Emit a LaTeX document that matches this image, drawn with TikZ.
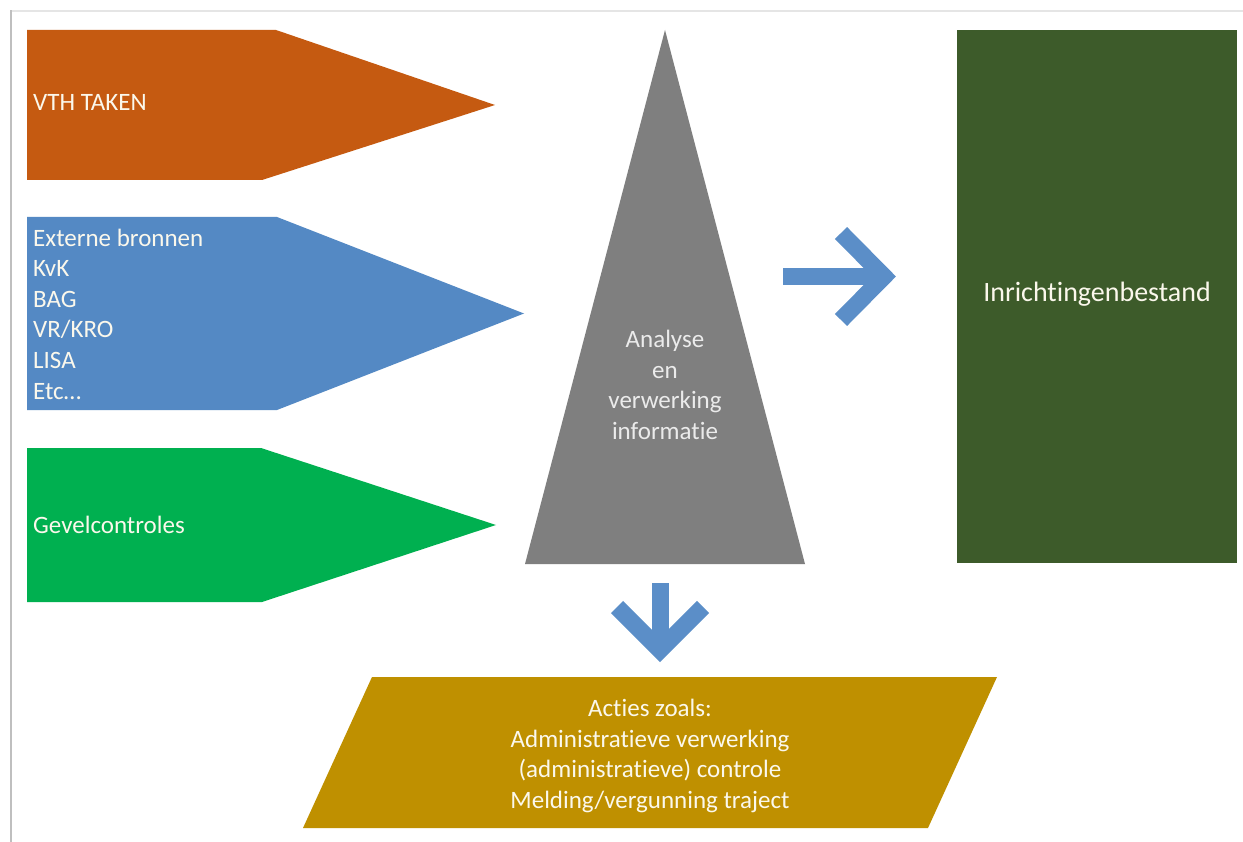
\documentclass[tikz,border=0pt]{standalone}
\usepackage{fontspec}
\setmainfont{Carlito}[Ligatures=NoCommon]
\definecolor{cOrange}{HTML}{C55A11}
\definecolor{cBlue}{HTML}{5489C4}
\definecolor{cGreen}{HTML}{00B050}
\definecolor{cGray}{HTML}{7F7F7F}
\definecolor{cDark}{HTML}{3D5B2A}
\definecolor{cGold}{HTML}{BF9000}
\definecolor{cArrow}{HTML}{5B8EC8}
\definecolor{cText}{HTML}{FBF8EC}
\begin{document}
\begin{tikzpicture}[x=1pt,y=-1pt,
  lbl/.style={text=cText,inner sep=0pt,font={\fontsize{25}{30.6}\selectfont}},
  blockarrow/.style={draw=cArrow,line width=17pt,line join=miter,miter limit=10},
]
\useasboundingbox[fill=white] (0,0) rectangle (1243,842);
% frame
\draw[black!10,line width=1.5pt] (11,11) -- (1243,11);
\draw[black!25,line width=2.5pt] (11,842) -- (11,10.25);

% shapes
\fill[cOrange] (27,30) -- (276,30) -- (495,105) -- (262,180) -- (27,180) -- cycle;
\fill[cBlue] (27,217) -- (277,217) -- (524,313.5) -- (277,410) -- (27,410) -- cycle;
\fill[cGreen] (27,448) -- (261,448) -- (496,525) -- (262,602) -- (27,602) -- cycle;
\fill[cGray] (665,30) -- (805,564) -- (525,564) -- cycle;
\fill[cDark] (957,30) rectangle (1237,563);
\fill[cGold] (372,677) -- (997,677) -- (928,828) -- (303,828) -- cycle;

% texts
\node[lbl,anchor=west] (vth) at (33,102) {VTH TAKEN};
\node[lbl,anchor=west,align=left] (ext) at (33,314) {Externe bronnen\\KvK\\BAG\\VR/KRO\\LISA\\Etc…};
\node[lbl,anchor=west] (gevel) at (33,525) {Gevelcontroles};
\node[lbl,align=center,text=black!8] (ana) at (665,385) {Analyse\\en\\verwerking\\informatie};
\node[lbl,font={\fontsize{28}{34}\selectfont}] (inr) at (1097,294) {Inrichtingenbestand};
\node[lbl,align=center] (act) at (650,756) {Acties zoals:\\Administratieve verwerking\\(administratieve) controle\\Melding/vergunning traject};

% right arrow
\coordinate (rs) at (783,276.5);
\coordinate (rv) at (884,276.5);
\coordinate (ra1) at (841,233);
\coordinate (ra2) at (841,320);
\draw[blockarrow] (rs) -- (rv);
\draw[blockarrow] (ra1) -- (rv) -- (ra2);

% down arrow
\coordinate (ds) at (660,583);
\coordinate (dv) at (660,650);
\coordinate (da1) at (617,607);
\coordinate (da2) at (703,607);
\draw[blockarrow] (ds) -- (dv);
\draw[blockarrow] (da1) -- (dv) -- (da2);
\end{tikzpicture}
\end{document}
